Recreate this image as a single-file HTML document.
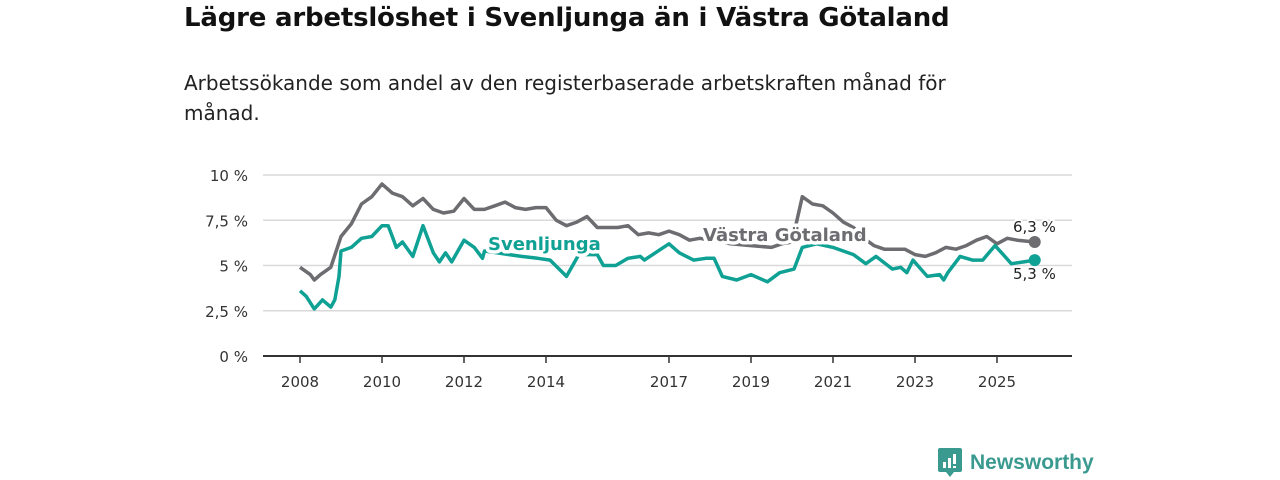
<!DOCTYPE html>
<html><head><meta charset="utf-8">
<style>
body{margin:0;background:#fff;font-family:"DejaVu Sans","Liberation Sans",sans-serif;}
#wrap{position:relative;width:1280px;height:480px;overflow:hidden;}
h1{position:absolute;left:184px;top:3px;margin:0;font-size:26px;font-weight:bold;color:#111;letter-spacing:-0.2px;}
p.sub{position:absolute;left:184px;top:68px;margin:0;font-size:20px;line-height:30px;color:#222;width:835px;}
.logo{position:absolute;left:938px;top:448px;display:flex;align-items:center;}
.logo span{font-family:"Liberation Sans",sans-serif;font-size:21px;color:#3a9a8f;font-weight:bold;margin-left:8px;}
</style></head><body>
<div id="wrap">
<h1>Lägre arbetslöshet i Svenljunga än i Västra Götaland</h1>
<p class="sub">Arbetssökande som andel av den registerbaserade arbetskraften månad för<br>månad.</p>
<svg id="chart" width="1280" height="480" style="position:absolute;left:0;top:0"></svg>
<div class="logo">
<svg width="24" height="30"><path d="M0 2 Q0 0 2 0 H22 Q24 0 24 2 V22 Q24 24 22 24 H16 L12 29 L8 24 H2 Q0 24 0 22Z" fill="#3a9a8f"/><rect x="5" y="14" width="3" height="6" fill="#fff"/><rect x="10" y="10" width="3" height="10" fill="#fff"/><rect x="15" y="6" width="3" height="10" fill="#fff"/><rect x="15" y="18" width="3" height="2" fill="#fff"/></svg>
<span>Newsworthy</span></div>
</div>
<script>
const yTicks=[0,2.5,5,7.5,10];
const yTickLabels=["0 %","2,5 %","5 %","7,5 %","10 %"];
const xTicks=[2008,2010,2012,2014,2017,2019,2021,2023,2025];
const vgDates=[2008.0,2008.25,2008.35,2008.5,2008.75,2009.0,2009.25,2009.5,2009.75,2010.0,2010.25,2010.5,2010.75,2011.0,2011.25,2011.5,2011.75,2012.0,2012.25,2012.5,2012.75,2013.0,2013.25,2013.5,2013.75,2014.0,2014.25,2014.5,2014.75,2015.0,2015.25,2015.5,2015.75,2016.0,2016.25,2016.5,2016.75,2017.0,2017.25,2017.5,2017.75,2018.0,2018.5,2019.0,2019.5,2019.75,2020.0,2020.25,2020.5,2020.75,2021.0,2021.25,2021.5,2021.75,2022.0,2022.25,2022.5,2022.75,2023.0,2023.25,2023.5,2023.75,2024.0,2024.25,2024.5,2024.75,2025.0,2025.25,2025.5,2025.92];
const vgValues=[4.9,4.5,4.2,4.5,4.9,6.6,7.3,8.4,8.8,9.5,9.0,8.8,8.3,8.7,8.1,7.9,8.0,8.7,8.1,8.1,8.3,8.5,8.2,8.1,8.2,8.2,7.5,7.2,7.4,7.7,7.1,7.1,7.1,7.2,6.7,6.8,6.7,6.9,6.7,6.4,6.5,6.4,6.2,6.1,6.0,6.2,6.3,8.8,8.4,8.3,7.9,7.4,7.1,6.5,6.1,5.9,5.9,5.9,5.6,5.5,5.7,6.0,5.9,6.1,6.4,6.6,6.2,6.5,6.4,6.3];
const svDates=[2008.0,2008.15,2008.35,2008.55,2008.75,2008.85,2008.95,2009.0,2009.25,2009.5,2009.75,2010.0,2010.15,2010.25,2010.35,2010.5,2010.75,2011.0,2011.25,2011.4,2011.55,2011.7,2012.0,2012.25,2012.45,2012.5,2012.8,2013.1,2013.4,2013.8,2014.1,2014.5,2014.8,2015.25,2015.4,2015.7,2016.0,2016.3,2016.4,2016.8,2017.0,2017.25,2017.6,2017.9,2018.1,2018.3,2018.65,2019.0,2019.4,2019.7,2020.05,2020.25,2020.6,2021.0,2021.5,2021.8,2022.05,2022.45,2022.65,2022.8,2022.95,2023.3,2023.6,2023.7,2023.8,2024.1,2024.4,2024.65,2024.95,2025.15,2025.35,2025.65,2025.92];
const svValues=[3.6,3.3,2.6,3.1,2.7,3.1,4.4,5.8,6.0,6.5,6.6,7.2,7.2,6.6,6.0,6.3,5.5,7.2,5.7,5.2,5.7,5.2,6.4,6.0,5.4,5.8,5.7,5.6,5.5,5.4,5.3,4.4,5.6,5.6,5.0,5.0,5.4,5.5,5.3,5.9,6.2,5.7,5.3,5.4,5.4,4.4,4.2,4.5,4.1,4.6,4.8,6.0,6.2,6.0,5.6,5.1,5.5,4.8,4.9,4.6,5.3,4.4,4.5,4.2,4.6,5.5,5.3,5.3,6.1,5.6,5.1,5.2,5.3];
const NS="http://www.w3.org/2000/svg";
const svg=document.getElementById('chart');
const X=t=>300+(t-2008)*41;
const Y=v=>356-v*18.1;
function el(tag,attrs,parent){const e=document.createElementNS(NS,tag);for(const k in attrs)e.setAttribute(k,attrs[k]);(parent||svg).appendChild(e);return e;}
yTicks.forEach((v,i)=>{
  if(v>0){const g=el('line',{x1:263,x2:1072,y1:Y(v),y2:Y(v),stroke:'#d9d9d9','stroke-width':1.5});
  
  }
  const t=el('text',{x:248,y:Y(v)+6,'text-anchor':'end','font-size':15,fill:'#333'});
  t.textContent=yTickLabels[i];
  
  
});
const ax=el('line',{x1:263,x2:1072,y1:356,y2:356,stroke:'#333','stroke-width':2});


xTicks.forEach(yr=>{
  const tk=el('line',{x1:X(yr),x2:X(yr),y1:356,y2:363,stroke:'#333','stroke-width':1.5});
  
  
  const t=el('text',{x:X(yr),y:387,'text-anchor':'middle','font-size':15,fill:'#333'});
  t.textContent=yr;
  
  
});
function line(d,v,color,name){
  const p=el('path',{d:d.map((t,i)=>(i?'L':'M')+X(t).toFixed(1)+' '+Y(v[i]).toFixed(1)).join(''),fill:'none',stroke:color,'stroke-width':3.5,'stroke-linejoin':'round'});
  
  
  const c=el('circle',{cx:X(d[d.length-1]),cy:Y(v[v.length-1]),r:6,fill:color});
  
  
}
line(vgDates,vgValues,'#6d6c70','vastra-gotaland-line');
line(svDates,svValues,'#10a195','svenljunga-line');
function label(txt,x,y,color,name,size,weight,sw){
  const t=el('text',{x:x,y:y,'font-size':size,'font-weight':weight,fill:color,stroke:'#fff','stroke-width':sw,'paint-order':'stroke','stroke-linejoin':'round'});
  t.textContent=txt;
  
  
}
label('Svenljunga',488,250,'#10a195','svenljunga-label',18,'bold',7);
label('Västra Götaland',703,241,'#6d6c70','vastra-gotaland-label',18,'bold',7);
label('6,3 %',1013,232,'#222','vg-last-value',15,'normal',4);
label('5,3 %',1013,279,'#222','sv-last-value',15,'normal',4);
</script>
</body></html>
